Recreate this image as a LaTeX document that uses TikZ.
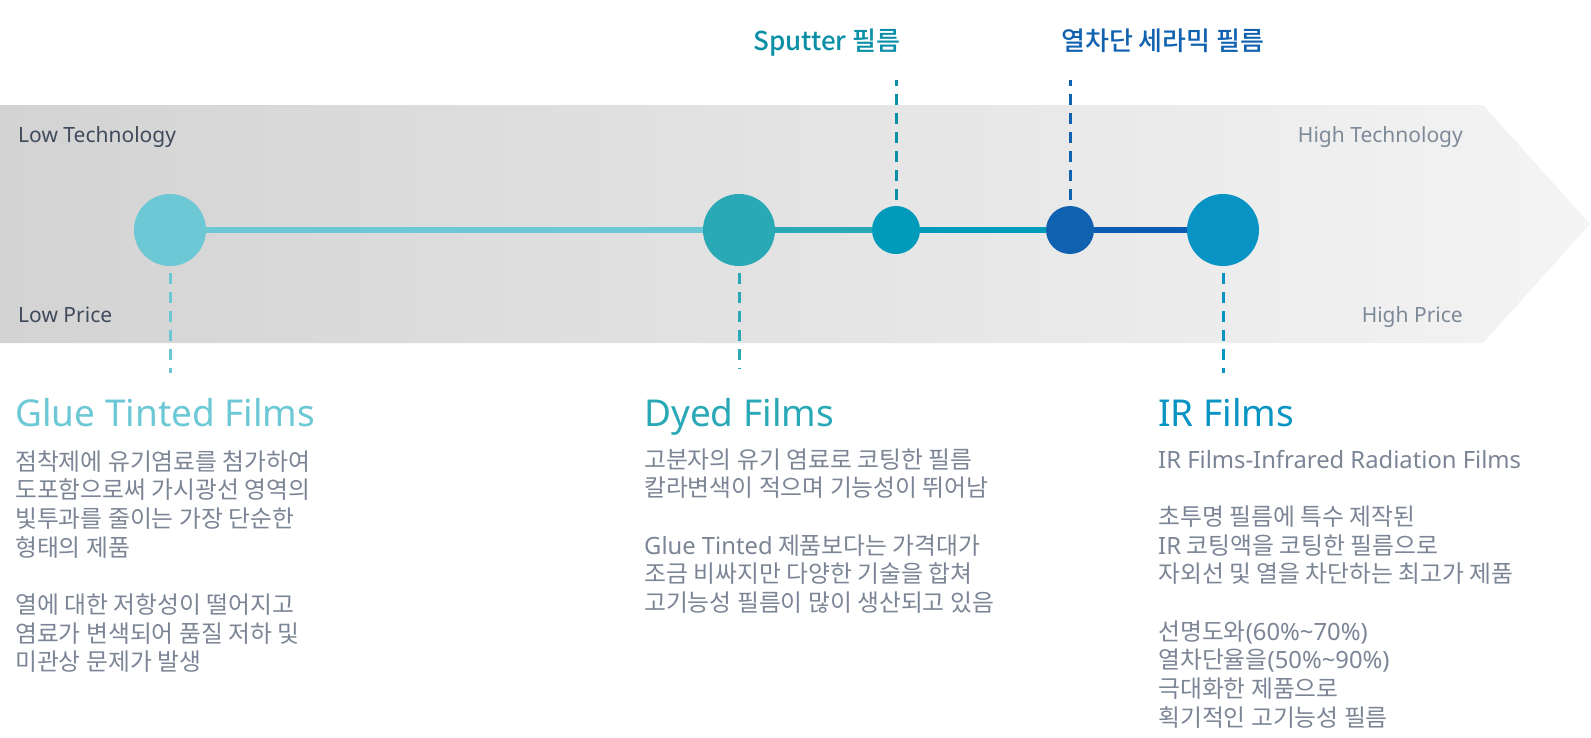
\documentclass[tikz,border=0pt]{standalone}
\usepackage{fontspec}
\setmainfont{Noto Sans CJK KR}
\newfontfamily\lat{Noto Sans}
\newfontfamily\krmed{Noto Sans CJK KR Medium}
\definecolor{bandL}{HTML}{D3D3D3}
\definecolor{bandR}{HTML}{F4F4F4}
\definecolor{cglue}{HTML}{6CC8D4}
\definecolor{cdyed}{HTML}{29A8B6}
\definecolor{csput}{HTML}{009ABB}
\definecolor{csputtxt}{HTML}{0A8FA7}
\definecolor{ccer}{HTML}{1062B0}
\definecolor{cceline}{HTML}{0B5CB3}
\definecolor{cir}{HTML}{0794C4}
\definecolor{darktxt}{HTML}{3F4A5B}
\definecolor{lighttxt}{HTML}{7E8A99}
\definecolor{bodytxt}{HTML}{7B8595}
\newcommand\mylines[1]{\vtop{\baselineskip=28.7pt\lineskiplimit=-30pt\lineskip=0pt\halign{##\hfil\cr#1\crcr}}}
\begin{document}
\begin{tikzpicture}[x=1pt,y=-1pt,
  filmdot/.style={circle,fill=#1,inner sep=0pt,draw=none},
  bigdot/.style={filmdot=#1,minimum size=72pt},
  smalldot/.style={filmdot=#1,minimum size=48pt},
  tline/.style={line width=5.5pt,draw=#1},
  dashln/.style={line width=3pt,draw=#1,dash pattern=on 11pt off 8pt},
  axislbl/.style={inner sep=0pt,font=\lat\fontsize{21}{24}\selectfont},
  title/.style={anchor=base west,inner sep=0pt,text=#1,font=\lat\fontsize{37}{40}\selectfont},
  toplbl/.style={anchor=base west,inner sep=0pt,text=#1,font=\krmed\fontsize{26}{30}\selectfont},
  body/.style={anchor=base west,inner sep=0pt,text=bodytxt,font=\fontsize{23.8}{28.7}\selectfont}]
\useasboundingbox (0,0) rectangle (1591,737);
% band arrow
\shade[left color=bandL,right color=bandR]
  (0,105) -- (1483,105) -- (1590,224) -- (1483,343) -- (0,343) -- cycle;
% axis labels
\node[axislbl,anchor=base west,text=darktxt] (lt) at (18,142) {Low Technology};
\node[axislbl,anchor=base west,text=darktxt] (lp) at (18,322) {Low Price};
\node[axislbl,anchor=base east,text=lighttxt] (ht) at (1463,142) {High Technology};
\node[axislbl,anchor=base east,text=lighttxt] (hp) at (1463,322) {High Price};
% dots
\node[bigdot=cglue] (g) at (170,230) {};
\node[bigdot=cdyed] (d) at (739,230) {};
\node[smalldot=csput] (s) at (896,230) {};
\node[smalldot=ccer] (c) at (1070,230) {};
\node[bigdot=cir] (ir) at (1223,230) {};
% connectors
\draw[tline=cglue] (g.east) -- (d.west);
\draw[tline=cdyed] (d.east) -- (s.west);
\draw[tline=csput] (s.east) -- (c.west);
\draw[tline=cceline] (c.east) -- (ir.west);
% dashed leaders
\coordinate (gend) at (170,373);
\coordinate (dend) at (739,369);
\coordinate (irend) at (1223,373);
\coordinate (send) at (896,80);
\coordinate (cend) at (1070,80);
\draw[dashln=cglue] ([yshift=-7pt]g.south) -- (gend);
\draw[dashln=cdyed] ([yshift=-7pt]d.south) -- (dend);
\draw[dashln=cir] ([yshift=-7pt]ir.south) -- (irend);
\draw[dashln=csputtxt] ([yshift=6pt]s.north) -- (send);
\draw[dashln=ccer] ([yshift=6pt]c.north) -- (cend);
% top labels
\node[toplbl=csputtxt] (sl) at (753,50) {Sputter 필름};
\node[toplbl=ccer] (cl) at (1061,50) {열차단 세라믹 필름};
% titles
\node[title=cglue] (gt) at (15,426) {Glue Tinted Films};
\node[title=cdyed] (dt) at (644,426) {Dyed Films};
\node[title=cir] (irt) at (1158,426) {IR Films};
% bodies
\node[body] (gb) at (15,470) {\mylines{점착제에 유기염료를 첨가하여\cr 도포함으로써 가시광선 영역의\cr 빛투과를 줄이는 가장 단순한\cr 형태의 제품\cr\cr 열에 대한 저항성이 떨어지고\cr 염료가 변색되어 품질 저하 및\cr 미관상 문제가 발생}};
\node[body] (db) at (644,468) {\mylines{고분자의 유기 염료로 코팅한 필름\cr 칼라변색이 적으며 기능성이 뛰어남\cr\cr {\lat Glue Tinted} 제품보다는 가격대가\cr 조금 비싸지만 다양한 기술을 합쳐\cr 고기능성 필름이 많이 생산되고 있음}};
\node[body] (irb) at (1158,468) {\mylines{{\lat IR Films-Infrared Radiation Films}\cr\cr 초투명 필름에 특수 제작된\cr {\lat IR} 코팅액을 코팅한 필름으로\cr 자외선 및 열을 차단하는 최고가 제품\cr\cr 선명도와{\lat(60\%\textasciitilde 70\%)}\cr 열차단율을{\lat(50\%\textasciitilde 90\%)}\cr 극대화한 제품으로\cr 획기적인 고기능성 필름}};
\end{tikzpicture}
\end{document}
